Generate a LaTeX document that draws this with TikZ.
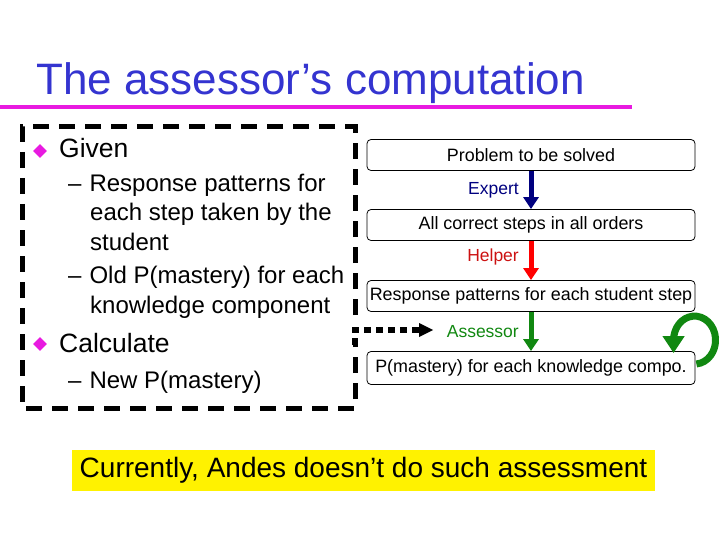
\documentclass[tikz,border=0pt]{standalone}
\usepackage{fontspec}
\setmainfont{Liberation Sans}
\usetikzlibrary{arrows.meta,shapes.geometric}
\definecolor{titleblue}{HTML}{3434D0}
\definecolor{magline}{HTML}{E81AE0}
\definecolor{expertblue}{HTML}{00007F}
\definecolor{helperred}{HTML}{FF0000}
\definecolor{helpertext}{HTML}{CC1111}
\definecolor{assgreen}{HTML}{118811}
\tikzset{
  stepbox/.style={draw=black,line width=0.8pt,rounded corners=4pt,minimum width=328pt,minimum height=31pt,inner sep=0pt,font=\fontsize{17.9}{20}\selectfont},
  bigarrow/.style={line width=5pt,-{Triangle[length=12pt,width=15pt]}},
  lbl/.style={font=\fontsize{17.5}{19}\selectfont,anchor=east,inner sep=0pt},
  bodytext/.style={anchor=base west,inner sep=0pt,font=\fontsize{24}{26}\selectfont},
  headtext/.style={anchor=base west,inner sep=0pt,font=\fontsize{26.5}{28}\selectfont},
  bullet/.style={diamond,fill=magline,inner sep=0pt,minimum width=14pt,minimum height=14pt},
  dashbox/.style={line width=5pt,dash pattern=on 16pt off 10pt}
}
\begin{document}
\begin{tikzpicture}[x=1pt,y=1pt]
\useasboundingbox (0,0) rectangle (720,-540);
% title
\node[anchor=base west,inner sep=0pt,text=titleblue,font=\fontsize{44}{48}\selectfont] (title) at (36,-95) {The assessor’s computation};
\draw[magline,line width=4pt] (0,-107) -- (632,-107);
% dashed box
\draw[dashbox] (355,-315) -- (355,-127) -- (22,-127) -- (22,-408) -- (355,-408) -- (355,-345);
\coordinate (dstart) at (355,-330);
\coordinate (dend) at (433,-330);
\draw[line width=6pt,dash pattern=on 7pt off 5pt] (355,-345) -- (dstart) -- (420,-330);
\fill (419,-323) -- (dend) -- (419,-337) -- cycle;
% left text
\node[bullet] (b1) at (40,-151) {};
\node[headtext] (given) at (59,-158) {Given};
\node[bodytext] (r1) at (68,-192) {–\hspace{8pt}Response patterns for};
\node[bodytext] (r2) at (90,-221) {each step taken by the};
\node[bodytext] (r3) at (90,-250) {student};
\node[bodytext] (r4) at (68,-283) {–\hspace{8pt}Old P(mastery) for each};
\node[bodytext] (r5) at (90,-313) {knowledge component};
\node[bullet] (b2) at (40,-344) {};
\node[headtext] (calc) at (59,-352) {Calculate};
\node[bodytext] (r6) at (68,-388) {–\hspace{8pt}New P(mastery)};
% right flow
\node[stepbox] (p1) at (531,-155) {Problem to be solved};
\node[stepbox] (p2) at (531,-225) {All correct steps in all orders};
\node[stepbox] (p3) at (531,-296) {Response patterns for each student step};
\node[stepbox,minimum height=33pt] (p4) at (531,-368) {P(mastery) for each knowledge compo.};
\draw[bigarrow,expertblue] (p1.south) -- (p2.north);
\draw[bigarrow,helperred] (p2.south) -- (p3.north);
\draw[bigarrow,assgreen] (p3.south) -- (p4.north);
\node[lbl,text=expertblue] (le) at (519,-190) {Expert};
\node[lbl,text=helpertext] (lh) at (519,-257) {Helper};
\node[lbl,text=assgreen] (la) at (519,-332) {Assessor};
% loop
\draw[assgreen,line width=7pt,-{Triangle[length=17pt,width=21pt]}] (p4.east) ++(1,4) arc[start angle=-85,end angle=180,x radius=21pt,y radius=24pt] -- ++(0,-13);
% bottom note
\node[fill=yellow,inner sep=0pt,minimum width=583pt,minimum height=41pt,font=\fontsize{28}{30}\selectfont] (note) at (363.5,-470.5) {Currently, Andes doesn’t do such assessment};
\end{tikzpicture}
\end{document}
